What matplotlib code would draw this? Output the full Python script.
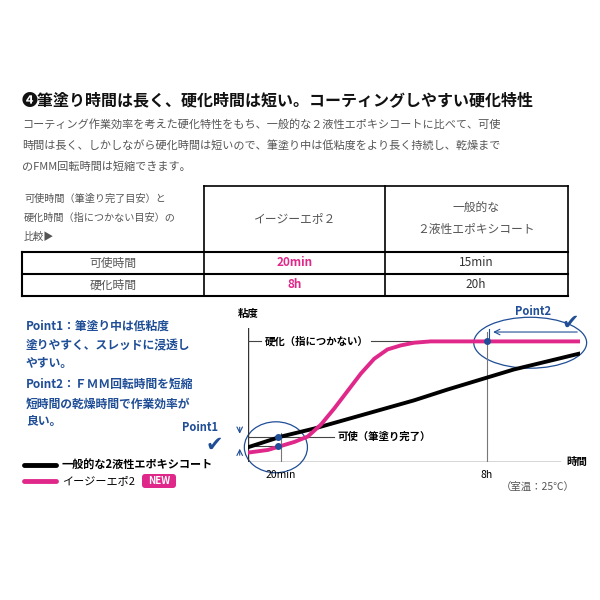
import matplotlib.pyplot as plt
from matplotlib.patches import Ellipse, FancyBboxPatch

plt.rcParams['font.family'] = ['Noto Sans CJK JP', 'DejaVu Sans']

# chart values (time axis 0-100, viscosity 0-100)
pink_x = [0, 3, 6, 10, 14, 18, 22, 26, 30, 34, 38, 42, 46, 50, 55, 60, 72, 100]
pink_y = [7, 8, 9, 12, 15, 19, 28, 40, 53, 66, 77, 84, 87, 89, 90, 90, 90, 90]
black_x = [0, 10, 20, 30, 40, 50, 60, 72, 80, 90, 100]
black_y = [11, 19, 25, 32, 39, 46, 54, 63, 69, 75, 81]
tick_pos = [10, 72]
tick_labels = ['20min', '8h']
table_rows = ['可使時間', '硬化時間']
easy_vals = ['20min', '8h']
normal_vals = ['15min', '20h']

PINK = '#e0288a'
BLUE = '#1f4e96'
GRAY = '#555555'


def draw_page(fig):
    # ===========================
    # Text and comparison table
    # ===========================
    bg = fig.add_axes([0, 0, 1, 1])
    bg.set_xlim(0, 600)
    bg.set_ylim(600, 0)
    bg.axis('off')

    bg.text(22, 100, '❹筆塗り時間は長く、硬化時間は短い。コーティングしやすい硬化特性',
            fontsize=11.5, fontweight='bold', va='center', color='#111111')
    body = ['コーティング作業効率を考えた硬化特性をもち、一般的な２液性エポキシコートに比べて、可使',
            '時間は長く、しかしながら硬化時間は短いので、筆塗り中は低粘度をより長く持続し、乾燥まで',
            'のFMM回転時間は短縮できます。']
    for i, line in enumerate(body):
        bg.text(22, 124 + i * 21, line, fontsize=8, color=GRAY, va='center')

    # table lines
    bg.plot([204, 568], [186, 186], color='black', lw=1.2)
    for x in [204, 385, 568]:
        bg.plot([x, x], [186, 296], color='black', lw=1.2)
    for y in [252, 274, 296]:
        bg.plot([22, 568], [y, y], color='black', lw=1.5)
    bg.plot([22, 22], [252, 296], color='black', lw=1.5)
    head = ['可使時間（筆塗り完了目安）と', '硬化時間（指につかない目安）の', '比較▶']
    for i, line in enumerate(head):
        bg.text(24, 199 + i * 19, line, fontsize=7.3, color=GRAY, va='center')
    bg.text(295, 219, 'イージーエポ２', fontsize=8.5, color=GRAY, ha='center', va='center')
    bg.text(476, 208, '一般的な', fontsize=8.5, color=GRAY, ha='center', va='center')
    bg.text(476, 230, '２液性エポキシコート', fontsize=8.5, color=GRAY, ha='center', va='center')
    for i, name in enumerate(table_rows):
        y = 263 + i * 22
        bg.text(113, y, name, fontsize=8.5, color=GRAY, ha='center', va='center')
        bg.text(295, y, easy_vals[i], fontsize=8.5, color=PINK, fontweight='bold',
                ha='center', va='center')
        bg.text(476, y, normal_vals[i], fontsize=8.5, color='#333333', ha='center', va='center')

    # left notes
    notes = [(326, 'Point1：筆塗り中は低粘度'), (346, '塗りやすく、スレッドに浸透し'),
             (363, 'やすい。'), (384, 'Point2：ＦＭＭ回転時間を短縮'),
             (404, '短時間の乾燥時間で作業効率が'), (421, '良い。')]
    for y, t in notes:
        bg.text(26, y, t, fontsize=8.5, color=BLUE, fontweight='bold', va='center')

    # legend
    bg.plot([24, 56], [465, 465], color='black', lw=3.5, solid_capstyle='round')
    bg.text(62, 465, '一般的な2液性エポキシコート', fontsize=8, fontweight='bold', va='center')
    bg.plot([24, 56], [481, 481], color=PINK, lw=3.5, solid_capstyle='round')
    bg.text(62, 481, 'イージーエポ2', fontsize=8, va='center')
    bg.add_patch(FancyBboxPatch((142, 474), 34, 14, boxstyle='round,pad=0,rounding_size=3',
                                fc=PINK, ec='none'))
    bg.text(159, 481, 'NEW', fontsize=7, color='white', fontweight='bold',
            ha='center', va='center')
    bg.text(575, 487, '（室温：25℃）', fontsize=7.5, color=GRAY, ha='right', va='center')

    # ===========================
    # Viscosity chart
    # ===========================
    ax = fig.add_axes([248 / 600, 1 - 462 / 600, 332 / 600, 134 / 600])
    ax.set_xlim(0, 100)
    ax.set_ylim(0, 100)
    ax.axis('off')

    ax.plot([0, 0], [0, 100], color='#333333', lw=1)
    ax.plot([0, 94], [0, 0], color='#333333', lw=1)
    ax.text(0, 107, '粘度', fontsize=7.5, fontweight='bold', ha='center', va='bottom')
    ax.text(96, 0, '時間', fontsize=7.5, fontweight='bold', va='center')
    for x, lab in zip(tick_pos, tick_labels):
        ax.text(x, -6, lab, fontsize=7.5, ha='center', va='top')

    ax.plot([10, 10], [0, 22], color='#777777', lw=0.8)
    ax.plot([72, 72], [0, 97], color='#777777', lw=0.8)
    ax.plot([-3, 4], [90, 90], color='#444444', lw=0.8)
    ax.text(5, 90, '硬化（指につかない）', fontsize=7.5, fontweight='bold', va='center')
    ax.plot([37, 72], [90, 90], color='#444444', lw=0.8)
    ax.plot([-3, 26], [19, 19], color='#444444', lw=0.8)
    ax.plot([-3, 9], [12, 12], color='#444444', lw=0.8)
    ax.text(27, 19, '可使（筆塗り完了）', fontsize=7.5, fontweight='bold', va='center')

    # curves
    ax.plot(black_x, black_y, color='black', lw=2.8, solid_capstyle='round')
    ax.plot(pink_x, pink_y, color=PINK, lw=2.8, solid_capstyle='round')
    ax.plot([9, 9, 72], [19, 12, 90], 'o', color=BLUE, ms=4)

    # point markers
    ax.add_patch(Ellipse((8.4, 11), 19, 38, fill=False, ec=BLUE, lw=0.9, clip_on=False))
    ax.add_patch(Ellipse((85, 89), 34, 38, fill=False, ec=BLUE, lw=0.9, clip_on=False))
    ax.annotate('', xy=(-2.5, 19), xytext=(-2.5, 28),
                arrowprops=dict(arrowstyle='->', color=BLUE, lw=0.8), annotation_clip=False)
    ax.annotate('', xy=(-2.5, 12), xytext=(-2.5, 3),
                arrowprops=dict(arrowstyle='->', color=BLUE, lw=0.8), annotation_clip=False)
    ax.annotate('', xy=(73, 97), xytext=(100, 97),
                arrowprops=dict(arrowstyle='->', color=BLUE, lw=0.8), annotation_clip=False)
    ax.plot([72.5, 72.5], [90, 99], color=BLUE, lw=0.8, clip_on=False)
    ax.text(-9, 26, 'Point1', fontsize=8, color=BLUE, fontweight='bold', ha='right', va='center')
    ax.text(-10, 13, '✔', fontsize=15, color=BLUE, ha='center', va='center')
    ax.text(86, 112, 'Point2', fontsize=8, color=BLUE, fontweight='bold', ha='center', va='center')
    ax.text(97, 104, '✔', fontsize=15, color=BLUE, ha='center', va='center')


fig = plt.figure(figsize=(6, 6), dpi=100)
draw_page(fig)
fig.savefig('out.png')
